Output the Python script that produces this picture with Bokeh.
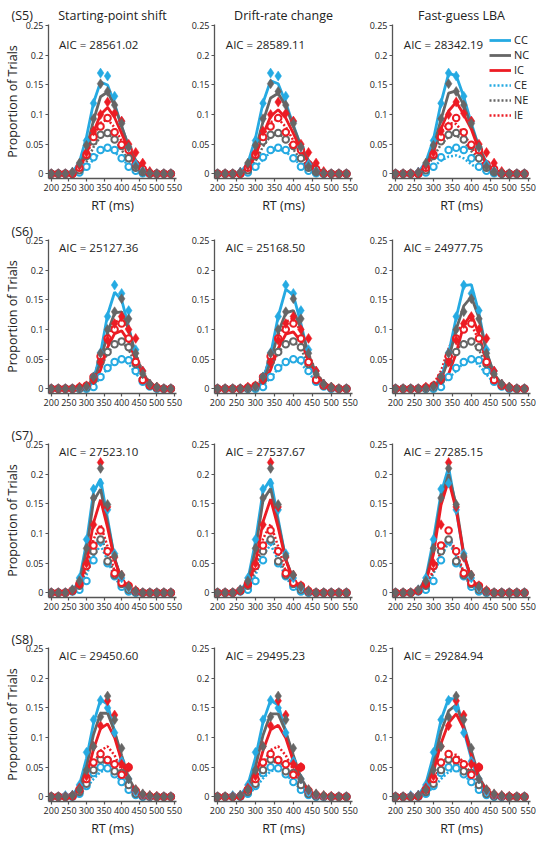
from bokeh.plotting import figure
from bokeh.layouts import column, row
from bokeh.models import Range1d, Label, Legend, LegendItem, FixedTicker, NumeralTickFormatter, Title
from bokeh.embed import file_html
from bokeh.resources import INLINE

# ---------------- data ----------------
BINS = [200, 220, 240, 260, 280, 300, 320, 340, 360, 380, 400, 420, 440, 460, 480, 500, 520, 540]
X_TICKS = [200, 250, 300, 350, 400, 450, 500, 550]
Y_TICKS = [0, 0.05, 0.1, 0.15, 0.2, 0.25]
CONDITIONS = ["CC", "NC", "IC", "CE", "NE", "IE"]
SUBJECTS = ["(S5)", "(S6)", "(S7)", "(S8)"]
MODELS = ["Starting-point shift", "Drift-rate change", "Fast-guess LBA"]

AIC_S5 = ["28561.02", "28589.11", "28342.19"]
AIC_S6 = ["25127.36", "25168.50", "24977.75"]
AIC_S7 = ["27523.10", "27537.67", "27285.15"]
AIC_S8 = ["29450.60", "29495.23", "29284.94"]

# --- S5 observed
S5_OBS_CC = [0, 0, 0, 0.003, 0.015, 0.056, 0.119, 0.170, 0.165, 0.131, 0.088, 0.045, 0.016, 0.005, 0.002, 0, 0, 0]
S5_OBS_NC = [0, 0, 0, 0.002, 0.018, 0.048, 0.093, 0.152, 0.139, 0.116, 0.085, 0.045, 0.012, 0.004, 0.001, 0, 0, 0]
S5_OBS_IC = [0, 0, 0, 0.002, 0.014, 0.036, 0.072, 0.100, 0.121, 0.102, 0.089, 0.050, 0.036, 0.018, 0.004, 0, 0, 0]
S5_OBS_CE = [0, 0, 0, 0, 0.002, 0.012, 0.028, 0.040, 0.044, 0.040, 0.026, 0.012, 0.005, 0.001, 0, 0, 0, 0]
S5_OBS_NE = [0, 0, 0, 0, 0.006, 0.030, 0.055, 0.066, 0.069, 0.058, 0.047, 0.026, 0.010, 0.003, 0, 0, 0, 0]
S5_OBS_IE = [0, 0, 0, 0, 0.010, 0.032, 0.062, 0.080, 0.094, 0.070, 0.049, 0.040, 0.016, 0.008, 0.001, 0, 0, 0]
# --- S5 starting-point shift
S5_SP_CC = [0, 0, 0, 0.002, 0.020, 0.062, 0.120, 0.155, 0.150, 0.118, 0.080, 0.046, 0.022, 0.009, 0.003, 0.001, 0, 0]
S5_SP_NC = [0, 0, 0, 0.001, 0.012, 0.042, 0.090, 0.130, 0.138, 0.115, 0.080, 0.046, 0.022, 0.009, 0.003, 0.001, 0, 0]
S5_SP_IC = [0, 0, 0, 0.001, 0.010, 0.032, 0.070, 0.100, 0.112, 0.095, 0.068, 0.040, 0.019, 0.008, 0.003, 0.001, 0, 0]
S5_SP_CE = [0, 0, 0, 0, 0.002, 0.010, 0.024, 0.037, 0.043, 0.037, 0.025, 0.014, 0.006, 0.002, 0.001, 0, 0, 0]
S5_SP_NE = [0, 0, 0, 0, 0.004, 0.020, 0.045, 0.063, 0.068, 0.058, 0.040, 0.023, 0.011, 0.004, 0.001, 0, 0, 0]
S5_SP_IE = [0, 0, 0, 0, 0.008, 0.030, 0.062, 0.086, 0.092, 0.078, 0.055, 0.031, 0.014, 0.005, 0.002, 0, 0, 0]
# --- S5 drift-rate change
S5_DR_CC = [0, 0, 0, 0.002, 0.018, 0.060, 0.120, 0.157, 0.152, 0.120, 0.082, 0.047, 0.022, 0.009, 0.003, 0.001, 0, 0]
S5_DR_NC = [0, 0, 0, 0.001, 0.011, 0.040, 0.088, 0.128, 0.136, 0.114, 0.080, 0.046, 0.022, 0.009, 0.003, 0.001, 0, 0]
S5_DR_IC = [0, 0, 0, 0.001, 0.009, 0.030, 0.066, 0.097, 0.108, 0.094, 0.068, 0.040, 0.019, 0.008, 0.003, 0.001, 0, 0]
S5_DR_CE = [0, 0, 0, 0, 0.002, 0.010, 0.024, 0.037, 0.042, 0.037, 0.026, 0.014, 0.006, 0.002, 0.001, 0, 0, 0]
S5_DR_NE = [0, 0, 0, 0, 0.004, 0.021, 0.046, 0.064, 0.068, 0.058, 0.041, 0.023, 0.011, 0.004, 0.001, 0, 0, 0]
S5_DR_IE = [0, 0, 0, 0, 0.008, 0.031, 0.063, 0.087, 0.093, 0.079, 0.056, 0.032, 0.014, 0.005, 0.002, 0, 0, 0]
# --- S5 fast-guess LBA
S5_FG_CC = [0, 0, 0, 0.002, 0.020, 0.058, 0.120, 0.169, 0.166, 0.130, 0.085, 0.045, 0.018, 0.006, 0.002, 0, 0, 0]
S5_FG_NC = [0, 0, 0, 0.001, 0.013, 0.045, 0.092, 0.136, 0.140, 0.116, 0.080, 0.045, 0.017, 0.006, 0.002, 0, 0, 0]
S5_FG_IC = [0, 0, 0, 0.001, 0.012, 0.036, 0.076, 0.106, 0.121, 0.100, 0.075, 0.040, 0.016, 0.006, 0.002, 0, 0, 0]
S5_FG_CE = [0, 0, 0, 0.001, 0.006, 0.012, 0.022, 0.029, 0.031, 0.026, 0.016, 0.008, 0.003, 0.001, 0, 0, 0, 0]
S5_FG_NE = [0, 0, 0, 0.001, 0.010, 0.028, 0.050, 0.062, 0.065, 0.055, 0.038, 0.020, 0.008, 0.002, 0, 0, 0, 0]
S5_FG_IE = [0, 0, 0, 0.002, 0.015, 0.040, 0.072, 0.086, 0.084, 0.068, 0.046, 0.024, 0.010, 0.003, 0.001, 0, 0, 0]

# --- S6 observed
S6_OBS_CC = [0, 0, 0, 0, 0, 0.002, 0.020, 0.061, 0.122, 0.175, 0.161, 0.132, 0.066, 0.030, 0.008, 0.002, 0, 0]
S6_OBS_NC = [0, 0, 0, 0, 0.001, 0.004, 0.020, 0.060, 0.100, 0.130, 0.152, 0.118, 0.060, 0.025, 0.008, 0.003, 0, 0]
S6_OBS_IC = [0, 0, 0, 0, 0.003, 0.005, 0.015, 0.045, 0.082, 0.110, 0.122, 0.100, 0.085, 0.030, 0.008, 0.003, 0, 0]
S6_OBS_CE = [0, 0, 0, 0, 0, 0, 0.003, 0.020, 0.035, 0.045, 0.050, 0.048, 0.030, 0.012, 0.004, 0, 0, 0]
S6_OBS_NE = [0, 0, 0, 0, 0, 0.002, 0.015, 0.045, 0.062, 0.075, 0.080, 0.070, 0.042, 0.015, 0.005, 0.001, 0, 0]
S6_OBS_IE = [0, 0, 0, 0, 0.002, 0.005, 0.020, 0.055, 0.085, 0.100, 0.110, 0.085, 0.045, 0.015, 0.006, 0.002, 0, 0]
# --- S6 starting-point shift
S6_SP_CC = [0, 0, 0, 0, 0, 0.002, 0.015, 0.060, 0.125, 0.163, 0.150, 0.105, 0.055, 0.022, 0.008, 0.003, 0.001, 0]
S6_SP_NC = [0, 0, 0, 0, 0, 0.002, 0.012, 0.045, 0.095, 0.128, 0.130, 0.100, 0.058, 0.026, 0.010, 0.003, 0.001, 0]
S6_SP_IC = [0, 0, 0, 0, 0, 0.001, 0.008, 0.032, 0.070, 0.093, 0.098, 0.080, 0.048, 0.022, 0.009, 0.003, 0.001, 0]
S6_SP_CE = [0, 0, 0, 0, 0, 0.001, 0.006, 0.018, 0.034, 0.046, 0.050, 0.042, 0.026, 0.012, 0.005, 0.001, 0, 0]
S6_SP_NE = [0, 0, 0, 0, 0, 0.002, 0.010, 0.035, 0.060, 0.076, 0.080, 0.066, 0.042, 0.020, 0.008, 0.002, 0, 0]
S6_SP_IE = [0, 0, 0, 0, 0, 0.003, 0.018, 0.055, 0.090, 0.112, 0.118, 0.095, 0.060, 0.028, 0.010, 0.003, 0, 0]
# --- S6 drift-rate change
S6_DR_CC = [0, 0, 0, 0, 0, 0.002, 0.015, 0.058, 0.122, 0.168, 0.158, 0.110, 0.056, 0.022, 0.008, 0.003, 0.001, 0]
S6_DR_NC = [0, 0, 0, 0, 0, 0.002, 0.012, 0.045, 0.095, 0.128, 0.132, 0.102, 0.058, 0.026, 0.010, 0.003, 0.001, 0]
S6_DR_IC = [0, 0, 0, 0, 0, 0.001, 0.008, 0.032, 0.068, 0.092, 0.096, 0.080, 0.048, 0.022, 0.009, 0.003, 0.001, 0]
S6_DR_CE = [0, 0, 0, 0, 0, 0.001, 0.006, 0.018, 0.034, 0.046, 0.051, 0.043, 0.027, 0.012, 0.005, 0.001, 0, 0]
S6_DR_NE = [0, 0, 0, 0, 0, 0.002, 0.011, 0.036, 0.061, 0.077, 0.081, 0.067, 0.042, 0.020, 0.008, 0.002, 0, 0]
S6_DR_IE = [0, 0, 0, 0, 0, 0.003, 0.018, 0.056, 0.091, 0.113, 0.119, 0.096, 0.060, 0.028, 0.010, 0.003, 0, 0]
# --- S6 fast-guess LBA
S6_FG_CC = [0, 0, 0, 0, 0.001, 0.004, 0.018, 0.060, 0.120, 0.174, 0.176, 0.128, 0.062, 0.022, 0.007, 0.002, 0, 0]
S6_FG_NC = [0, 0, 0, 0, 0.001, 0.004, 0.015, 0.050, 0.100, 0.140, 0.155, 0.120, 0.062, 0.025, 0.008, 0.002, 0, 0]
S6_FG_IC = [0, 0, 0, 0, 0.001, 0.003, 0.008, 0.025, 0.060, 0.108, 0.126, 0.092, 0.045, 0.018, 0.006, 0.002, 0, 0]
S6_FG_CE = [0, 0, 0, 0, 0.001, 0.003, 0.008, 0.018, 0.030, 0.044, 0.050, 0.040, 0.024, 0.010, 0.003, 0.001, 0, 0]
S6_FG_NE = [0, 0, 0, 0, 0.002, 0.006, 0.020, 0.045, 0.066, 0.078, 0.080, 0.066, 0.040, 0.018, 0.006, 0.001, 0, 0]
S6_FG_IE = [0, 0, 0, 0, 0.002, 0.008, 0.030, 0.068, 0.096, 0.110, 0.108, 0.082, 0.046, 0.018, 0.006, 0.001, 0, 0]

# --- S7 observed
S7_OBS_CC = [0, 0, 0, 0.005, 0.025, 0.090, 0.175, 0.185, 0.140, 0.066, 0.025, 0.008, 0.002, 0, 0, 0, 0, 0]
S7_OBS_NC = [0, 0, 0, 0.005, 0.020, 0.075, 0.160, 0.210, 0.149, 0.062, 0.030, 0.010, 0.003, 0, 0, 0, 0, 0]
S7_OBS_IC = [0, 0, 0, 0.004, 0.015, 0.050, 0.115, 0.220, 0.145, 0.060, 0.030, 0.012, 0.004, 0, 0, 0, 0, 0]
S7_OBS_CE = [0, 0, 0, 0.002, 0.005, 0.020, 0.055, 0.087, 0.050, 0.028, 0.010, 0.002, 0, 0, 0, 0, 0, 0]
S7_OBS_NE = [0, 0, 0, 0.003, 0.012, 0.045, 0.070, 0.090, 0.053, 0.030, 0.015, 0.005, 0.001, 0, 0, 0, 0, 0]
S7_OBS_IE = [0, 0, 0, 0.004, 0.015, 0.045, 0.080, 0.105, 0.070, 0.033, 0.017, 0.012, 0.003, 0, 0, 0, 0, 0]
# --- S7 starting-point shift
S7_SP_CC = [0, 0, 0, 0.002, 0.022, 0.085, 0.170, 0.192, 0.125, 0.058, 0.020, 0.006, 0.002, 0, 0, 0, 0, 0]
S7_SP_NC = [0, 0, 0, 0.002, 0.018, 0.072, 0.155, 0.175, 0.118, 0.058, 0.022, 0.007, 0.002, 0, 0, 0, 0, 0]
S7_SP_IC = [0, 0, 0, 0.001, 0.012, 0.050, 0.118, 0.157, 0.110, 0.055, 0.022, 0.007, 0.002, 0, 0, 0, 0, 0]
S7_SP_CE = [0, 0, 0, 0.001, 0.008, 0.030, 0.062, 0.080, 0.055, 0.026, 0.009, 0.003, 0.001, 0, 0, 0, 0, 0]
S7_SP_NE = [0, 0, 0, 0.001, 0.010, 0.038, 0.075, 0.095, 0.065, 0.030, 0.011, 0.003, 0.001, 0, 0, 0, 0, 0]
S7_SP_IE = [0, 0, 0, 0.002, 0.012, 0.045, 0.090, 0.115, 0.078, 0.036, 0.013, 0.004, 0.001, 0, 0, 0, 0, 0]
# --- S7 drift-rate change
S7_DR_CC = [0, 0, 0, 0.002, 0.022, 0.086, 0.172, 0.192, 0.124, 0.057, 0.020, 0.006, 0.002, 0, 0, 0, 0, 0]
S7_DR_NC = [0, 0, 0, 0.002, 0.018, 0.072, 0.156, 0.176, 0.118, 0.057, 0.022, 0.007, 0.002, 0, 0, 0, 0, 0]
S7_DR_IC = [0, 0, 0, 0.001, 0.012, 0.050, 0.120, 0.158, 0.110, 0.055, 0.022, 0.007, 0.002, 0, 0, 0, 0, 0]
S7_DR_CE = [0, 0, 0, 0.001, 0.008, 0.030, 0.063, 0.081, 0.055, 0.026, 0.009, 0.003, 0.001, 0, 0, 0, 0, 0]
S7_DR_NE = [0, 0, 0, 0.001, 0.010, 0.038, 0.076, 0.096, 0.065, 0.030, 0.011, 0.003, 0.001, 0, 0, 0, 0, 0]
S7_DR_IE = [0, 0, 0, 0.002, 0.012, 0.045, 0.091, 0.116, 0.078, 0.036, 0.013, 0.004, 0.001, 0, 0, 0, 0, 0]
# --- S7 fast-guess LBA
S7_FG_CC = [0, 0, 0, 0.003, 0.025, 0.090, 0.168, 0.212, 0.140, 0.062, 0.022, 0.006, 0.002, 0, 0, 0, 0, 0]
S7_FG_NC = [0, 0, 0, 0.003, 0.022, 0.078, 0.158, 0.200, 0.148, 0.066, 0.024, 0.007, 0.002, 0, 0, 0, 0, 0]
S7_FG_IC = [0, 0, 0, 0.003, 0.018, 0.065, 0.148, 0.190, 0.140, 0.064, 0.024, 0.007, 0.002, 0, 0, 0, 0, 0]
S7_FG_CE = [0, 0, 0, 0.002, 0.010, 0.032, 0.060, 0.085, 0.062, 0.030, 0.010, 0.003, 0.001, 0, 0, 0, 0, 0]
S7_FG_NE = [0, 0, 0, 0.002, 0.011, 0.035, 0.065, 0.090, 0.066, 0.032, 0.011, 0.003, 0.001, 0, 0, 0, 0, 0]
S7_FG_IE = [0, 0, 0, 0.003, 0.013, 0.038, 0.070, 0.095, 0.070, 0.034, 0.012, 0.004, 0.001, 0, 0, 0, 0, 0]

# --- S8 observed
S8_OBS_CC = [0, 0, 0.002, 0.003, 0.020, 0.075, 0.130, 0.163, 0.150, 0.108, 0.060, 0.030, 0.008, 0.002, 0, 0, 0, 0]
S8_OBS_NC = [0, 0, 0, 0.002, 0.012, 0.045, 0.085, 0.135, 0.170, 0.130, 0.082, 0.030, 0.012, 0.005, 0.002, 0, 0, 0]
S8_OBS_IC = [0, 0, 0, 0.002, 0.015, 0.035, 0.085, 0.120, 0.162, 0.138, 0.055, 0.050, 0.012, 0.004, 0.002, 0.001, 0, 0]
S8_OBS_CE = [0, 0, 0, 0, 0.005, 0.018, 0.040, 0.050, 0.048, 0.038, 0.025, 0.012, 0.003, 0, 0, 0, 0, 0]
S8_OBS_NE = [0, 0, 0, 0.001, 0.008, 0.022, 0.045, 0.063, 0.062, 0.043, 0.040, 0.020, 0.005, 0.001, 0, 0, 0, 0]
S8_OBS_IE = [0, 0, 0, 0.001, 0.012, 0.030, 0.058, 0.072, 0.062, 0.055, 0.037, 0.050, 0.010, 0.003, 0.001, 0, 0, 0]
# --- S8 starting-point shift
S8_SP_CC = [0, 0, 0, 0.002, 0.020, 0.065, 0.124, 0.164, 0.156, 0.110, 0.060, 0.025, 0.008, 0.002, 0, 0, 0, 0]
S8_SP_NC = [0, 0, 0, 0.001, 0.015, 0.050, 0.105, 0.141, 0.141, 0.110, 0.070, 0.032, 0.010, 0.003, 0.001, 0, 0, 0]
S8_SP_IC = [0, 0, 0, 0.001, 0.010, 0.035, 0.080, 0.115, 0.123, 0.100, 0.060, 0.027, 0.009, 0.002, 0.001, 0, 0, 0]
S8_SP_CE = [0, 0, 0, 0, 0.004, 0.015, 0.030, 0.042, 0.046, 0.038, 0.025, 0.012, 0.004, 0.001, 0, 0, 0, 0]
S8_SP_NE = [0, 0, 0, 0, 0.006, 0.020, 0.040, 0.056, 0.060, 0.050, 0.032, 0.015, 0.005, 0.001, 0, 0, 0, 0]
S8_SP_IE = [0, 0, 0, 0, 0.007, 0.025, 0.055, 0.078, 0.085, 0.070, 0.045, 0.020, 0.006, 0.002, 0, 0, 0, 0]
# --- S8 drift-rate change
S8_DR_CC = [0, 0, 0, 0.002, 0.020, 0.066, 0.126, 0.163, 0.155, 0.110, 0.060, 0.025, 0.008, 0.002, 0, 0, 0, 0]
S8_DR_NC = [0, 0, 0, 0.001, 0.015, 0.050, 0.104, 0.140, 0.140, 0.110, 0.070, 0.032, 0.010, 0.003, 0.001, 0, 0, 0]
S8_DR_IC = [0, 0, 0, 0.001, 0.010, 0.034, 0.078, 0.113, 0.121, 0.099, 0.060, 0.027, 0.009, 0.002, 0.001, 0, 0, 0]
S8_DR_CE = [0, 0, 0, 0, 0.004, 0.015, 0.031, 0.043, 0.046, 0.038, 0.025, 0.012, 0.004, 0.001, 0, 0, 0, 0]
S8_DR_NE = [0, 0, 0, 0, 0.006, 0.021, 0.041, 0.057, 0.060, 0.050, 0.032, 0.015, 0.005, 0.001, 0, 0, 0, 0]
S8_DR_IE = [0, 0, 0, 0, 0.007, 0.026, 0.056, 0.079, 0.085, 0.070, 0.045, 0.020, 0.006, 0.002, 0, 0, 0, 0]
# --- S8 fast-guess LBA
S8_FG_CC = [0, 0, 0, 0.002, 0.022, 0.070, 0.130, 0.166, 0.165, 0.112, 0.064, 0.026, 0.008, 0.002, 0, 0, 0, 0]
S8_FG_NC = [0, 0, 0, 0.001, 0.016, 0.055, 0.110, 0.145, 0.155, 0.120, 0.078, 0.034, 0.011, 0.003, 0.001, 0, 0, 0]
S8_FG_IC = [0, 0, 0, 0.001, 0.012, 0.042, 0.090, 0.125, 0.140, 0.115, 0.070, 0.030, 0.010, 0.003, 0.001, 0, 0, 0]
S8_FG_CE = [0, 0, 0, 0, 0.005, 0.016, 0.030, 0.042, 0.046, 0.037, 0.024, 0.011, 0.004, 0.001, 0, 0, 0, 0]
S8_FG_NE = [0, 0, 0, 0.001, 0.007, 0.022, 0.042, 0.054, 0.056, 0.046, 0.030, 0.014, 0.005, 0.001, 0, 0, 0, 0]
S8_FG_IE = [0, 0, 0, 0.001, 0.009, 0.028, 0.054, 0.069, 0.071, 0.058, 0.038, 0.018, 0.006, 0.002, 0, 0, 0, 0]

OBSERVED = [
    [S5_OBS_CC, S5_OBS_NC, S5_OBS_IC, S5_OBS_CE, S5_OBS_NE, S5_OBS_IE],
    [S6_OBS_CC, S6_OBS_NC, S6_OBS_IC, S6_OBS_CE, S6_OBS_NE, S6_OBS_IE],
    [S7_OBS_CC, S7_OBS_NC, S7_OBS_IC, S7_OBS_CE, S7_OBS_NE, S7_OBS_IE],
    [S8_OBS_CC, S8_OBS_NC, S8_OBS_IC, S8_OBS_CE, S8_OBS_NE, S8_OBS_IE],
]
PREDICTED = [
    [[S5_SP_CC, S5_SP_NC, S5_SP_IC, S5_SP_CE, S5_SP_NE, S5_SP_IE],
     [S5_DR_CC, S5_DR_NC, S5_DR_IC, S5_DR_CE, S5_DR_NE, S5_DR_IE],
     [S5_FG_CC, S5_FG_NC, S5_FG_IC, S5_FG_CE, S5_FG_NE, S5_FG_IE]],
    [[S6_SP_CC, S6_SP_NC, S6_SP_IC, S6_SP_CE, S6_SP_NE, S6_SP_IE],
     [S6_DR_CC, S6_DR_NC, S6_DR_IC, S6_DR_CE, S6_DR_NE, S6_DR_IE],
     [S6_FG_CC, S6_FG_NC, S6_FG_IC, S6_FG_CE, S6_FG_NE, S6_FG_IE]],
    [[S7_SP_CC, S7_SP_NC, S7_SP_IC, S7_SP_CE, S7_SP_NE, S7_SP_IE],
     [S7_DR_CC, S7_DR_NC, S7_DR_IC, S7_DR_CE, S7_DR_NE, S7_DR_IE],
     [S7_FG_CC, S7_FG_NC, S7_FG_IC, S7_FG_CE, S7_FG_NE, S7_FG_IE]],
    [[S8_SP_CC, S8_SP_NC, S8_SP_IC, S8_SP_CE, S8_SP_NE, S8_SP_IE],
     [S8_DR_CC, S8_DR_NC, S8_DR_IC, S8_DR_CE, S8_DR_NE, S8_DR_IE],
     [S8_FG_CC, S8_FG_NC, S8_FG_IC, S8_FG_CE, S8_FG_NE, S8_FG_IE]],
]
AICS = [AIC_S5, AIC_S6, AIC_S7, AIC_S8]

# ---------------- style ----------------
COLORS = {"CC": "#25AAE2", "NC": "#666666", "IC": "#EC1C24",
          "CE": "#25AAE2", "NE": "#666666", "IE": "#EC1C24"}
FONT = "Open Sans"
TXT = "#222222"
AX = "#555555"

X0, X1 = 192, 556
Y0, Y1 = -0.008, 0.252

COL_L = [38, 30, 32]
COL_R = [8, 8, 6]
FRAME_W = 138
ROW_T = [24, 23, 23, 23]
ROW_B = [38, 27, 27, 38]
FRAME_H = 154
TITLE_SIZE = "12.5px"
TITLE_H = 17.0  # approximate text box height of the title font


def styled_title(text, align, offset, standoff):
    return Title(text=text, align=align, offset=offset, standoff=standoff,
                 text_font=FONT, text_font_size=TITLE_SIZE, text_font_style="normal",
                 text_color=TXT)


def make_panel(r, c):
    obs = OBSERVED[r]
    pred = PREDICTED[r][c]
    w = COL_L[c] + FRAME_W + COL_R[c]
    h = ROW_T[r] + FRAME_H + ROW_B[r]
    p = figure(width=w, height=h, x_range=Range1d(X0, X1), y_range=Range1d(Y0, Y1),
               output_backend="svg", toolbar_location=None,
               min_border_left=COL_L[c], min_border_right=COL_R[c],
               min_border_top=ROW_T[r], min_border_bottom=ROW_B[r])
    p.outline_line_color = None
    p.grid.visible = False
    p.background_fill_color = "white"
    p.border_fill_color = "white"

    for ax in p.axis:
        ax.axis_line_color = AX
        ax.axis_line_width = 1.3
        ax.major_tick_line_color = AX
        ax.major_tick_line_width = 1.2
        ax.major_tick_out = 3
        ax.major_tick_in = 0
        ax.minor_tick_line_color = None
        ax.major_label_text_font = FONT
        ax.major_label_text_font_size = "9px"
        ax.major_label_text_color = TXT
        ax.major_label_standoff = 2
        ax.axis_label_text_font = FONT
        ax.axis_label_text_font_style = "normal"
        ax.axis_label_text_color = TXT
        ax.axis_label_text_font_size = "12.5px"
        ax.axis_label_standoff = 3
    p.xaxis.ticker = FixedTicker(ticks=X_TICKS)
    p.yaxis.ticker = FixedTicker(ticks=Y_TICKS)
    p.yaxis.formatter = NumeralTickFormatter(format="0.[00]")
    if c == 0:
        p.yaxis.axis_label = "Proportion of Trials"
        p.yaxis.axis_label_text_font_size = "12.5px"
        p.yaxis.axis_label_standoff = 2
    if r in (0, 3):
        p.xaxis.axis_label = "RT (ms)"

    if r == 0:
        # model name, just above the frame
        p.add_layout(styled_title(MODELS[c], "center", 0, 2), "above")
        if c == 0:
            # subject label on the same line, at the far left
            p.add_layout(styled_title(SUBJECTS[r], "left", -(COL_L[0] - 1),
                                      -(2 * TITLE_H + 6)), "above")
    elif c == 0:
        p.add_layout(styled_title(SUBJECTS[r], "left", -(COL_L[0] - 1), 0), "above")

    rends = {}
    for k in (3, 4, 5):
        cond = CONDITIONS[k]
        rends[cond] = p.line(BINS, pred[k], line_color=COLORS[cond], line_width=2.5,
                             line_dash="2 2")
    for k in (0, 1, 2):
        cond = CONDITIONS[k]
        rends[cond] = p.line(BINS, pred[k], line_color=COLORS[cond], line_width=2.8)
    for k in (3, 4, 5):
        cond = CONDITIONS[k]
        p.scatter(BINS, obs[k], marker="circle", size=6.5, line_color=COLORS[cond],
                  line_width=2, fill_color="white")
    for k in (0, 2, 1):
        cond = CONDITIONS[k]
        p.scatter(BINS, obs[k], marker="diamond", size=10, line_color=COLORS[cond],
                  line_width=0.5, fill_color=COLORS[cond])

    aic_y = 0.218 if r == 0 else 0.238
    p.add_layout(Label(x=222, y=aic_y, text="AIC = " + AICS[r][c], text_font=FONT,
                       text_font_size="11.5px", text_color=TXT, text_baseline="middle",
                       text_align="left"))

    if r == 0 and c == 2:
        items = [LegendItem(label=cond, renderers=[rends[cond]]) for cond in CONDITIONS]
        leg = Legend(items=items, location=(97, 56), margin=0, padding=0,
                     spacing=0, glyph_width=22, glyph_height=10, label_height=10,
                     label_standoff=3, label_text_font=FONT, label_text_font_size="11px",
                     label_text_color=TXT, border_line_color=None,
                     background_fill_alpha=0)
        leg.label_text_baseline = "middle"
        p.add_layout(leg)
    return p


rows = []
for r in range(4):
    rows.append(row(*[make_panel(r, c) for c in range(3)], spacing=0))
layout = column(*rows, spacing=0)

open("out.html", "w").write(file_html(layout, INLINE))
